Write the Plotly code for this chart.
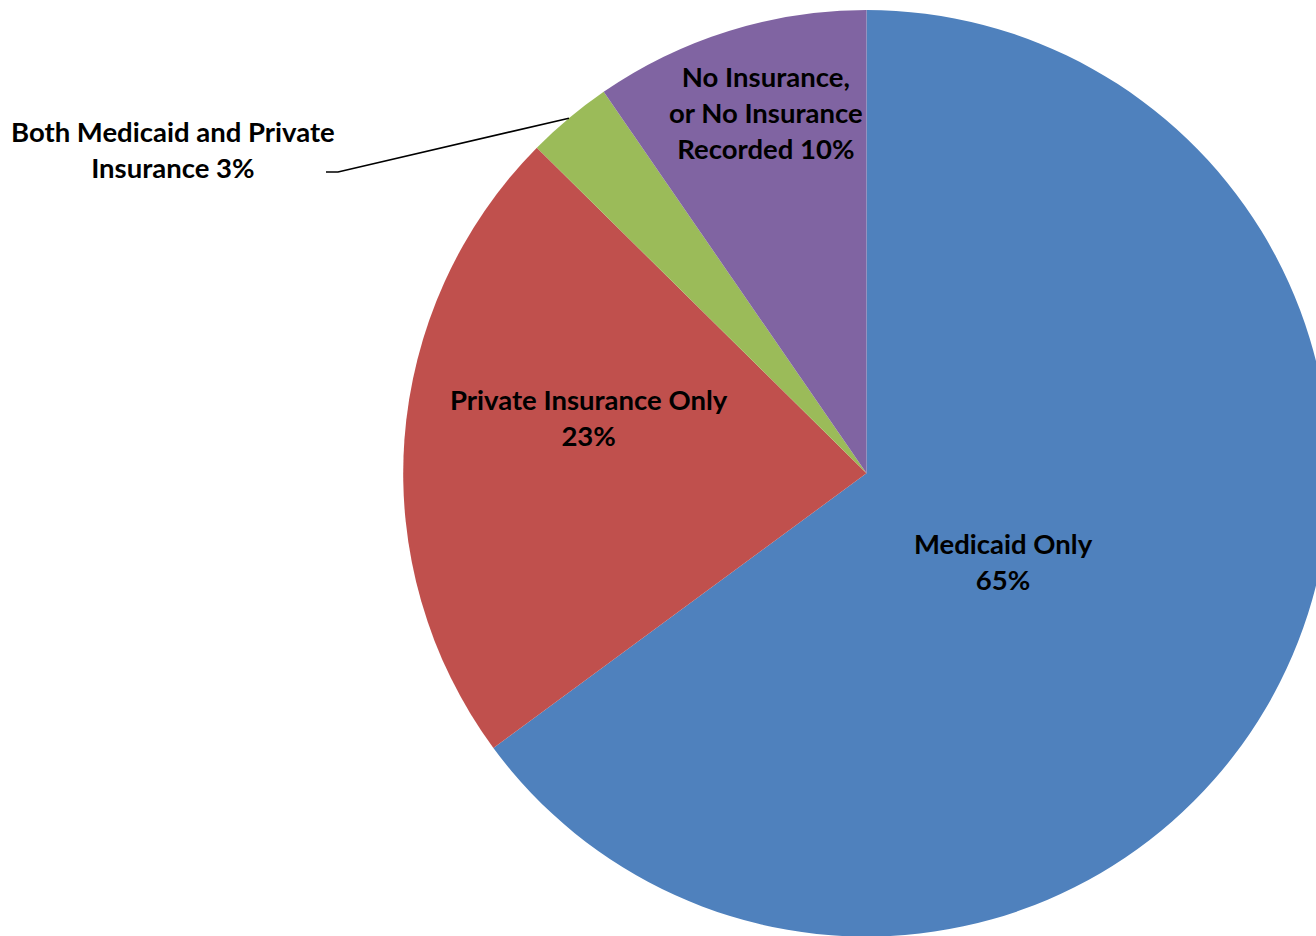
import math
import plotly.graph_objects as go

# ---- data ----
categories = ["Medicaid Only", "Private Insurance Only",
              "Both Medicaid and Private Insurance",
              "No Insurance, or No Insurance Recorded"]
shares = [64.9, 22.5, 3.0, 9.6]
pct_labels = ["65%", "23%", "3%", "10%"]
label_text = ["Medicaid Only<br>65%",
              "Private Insurance Only<br>23%",
              "Both Medicaid and Private<br>Insurance 3%",
              "No Insurance,<br>or No Insurance<br>Recorded 10%"]
colors = ["#4F81BD", "#C0504D", "#9BBB59", "#8064A2"]

# ---- layout geometry (pixels) ----
W, H = 1334, 940
cx, cy, r = 866.5, 473.3, 463.3
label_px = [(1003, 561), (588.5, 417), (173, 150), (766, 113)]

def px(x):
    return x / W

def py(y):
    return 1 - y / H

fig = go.Figure(go.Pie(
    labels=categories,
    values=shares,
    sort=False,
    direction="clockwise",
    rotation=0,
    textinfo="none",
    hoverinfo="label+percent",
    marker=dict(colors=colors, line=dict(width=0)),
    domain=dict(x=[px(cx - r), px(cx + r)], y=[py(cy + r), py(cy - r)]),
    showlegend=False,
))

FONT = "Lato"
for txt, (lx, ly) in zip(label_text, label_px):
    fig.add_annotation(x=px(lx), y=py(ly), xref="paper", yref="paper",
                       text="<b>" + txt + "</b>", showarrow=False,
                       xanchor="center", yanchor="middle", align="center",
                       font=dict(family=FONT, size=27.5, color="#000000"))

# leader line for small slice: points at middle of its outer arc
total = sum(shares)
start = sum(shares[:2]) / total * 360
mid = start + shares[2] / total * 360 / 2
ex = cx + r * math.sin(math.radians(mid))
ey = cy - r * math.cos(math.radians(mid))
path = f"M {px(326)},{py(172)} L {px(338)},{py(172)} L {px(ex)},{py(ey)}"
fig.add_shape(type="path", path=path, xref="paper", yref="paper",
              line=dict(color="#000000", width=1.6))

fig.update_layout(width=W, height=H, margin=dict(l=0, r=0, t=0, b=0),
                  paper_bgcolor="white", plot_bgcolor="white")

fig.write_html("out.html", config={"displayModeBar": False},
               post_script="document.body.style.margin='0';document.body.style.overflow='hidden';")
